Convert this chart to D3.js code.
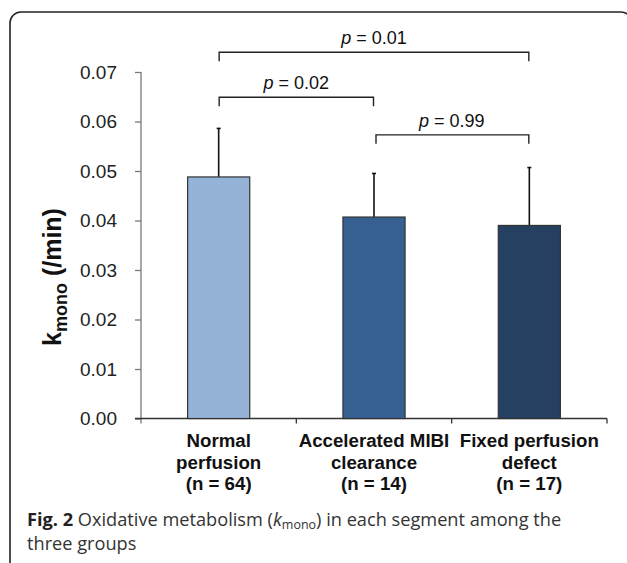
<!DOCTYPE html>
<html>
    <head>
        <meta charset="utf-8">
        <title>k mono bars</title>
        <script src="https://d3js.org/d3.v7.min.js"></script>
        <style type="text/css">
            body { margin: 0; background: #fff; }
            #chart { width: 627px; height: 563px; display: block; }
            .tick text { font: 19px "Liberation Sans", Arial, sans-serif; fill: #222; }
        </style>
    </head>
    <body>
        <svg id="chart" width="627" height="563"></svg>
        <script>
            // groups (multi-line labels)
            var categories = ["Normal perfusion", "Accelerated MIBI clearance", "Fixed perfusion defect"];
            var labelLines = [
                ["Normal", "perfusion", "(n = 64)"],
                ["Accelerated MIBI", "clearance", "(n = 14)"],
                ["Fixed perfusion", "defect", "(n = 17)"]
            ];
            var means = [0.0488, 0.0407, 0.0390];
            var sds = [0.0098, 0.0088, 0.0117];
            var colors = ["#95b3d7", "#376092", "#254061"];
            var yTicks = [0, 0.01, 0.02, 0.03, 0.04, 0.05, 0.06, 0.07];

            // significance brackets: which bars, p value
            var pairs = [[0, 2], [0, 1], [1, 2]];
            var pLabels = ["0.01", "0.02", "0.99"];

            var svg = d3.select("#chart");

            // panel frame
            svg.append("rect")
                .attr("x", 10).attr("y", 12)
                .attr("width", 622).attr("height", 600)
                .attr("rx", 11)
                .attr("fill", "none")
                .attr("stroke", "#222")
                .attr("stroke-width", 1.6);

            var x = d3.scaleBand()
                .domain(categories)
                .range([141, 607])
                .paddingInner(0.6)
                .paddingOuter(0.3);

            var y = d3.scaleLinear()
                .domain([0, 0.07])
                .range([418.5, 72]);

            var step = x.step();
            var cx = c => x(c) + x.bandwidth() / 2;

            // y axis
            var yAxis = svg.append("g")
                .attr("transform", "translate(141,0)")
                .call(d3.axisLeft(y)
                    .tickValues(yTicks)
                    .tickFormat(d3.format(".2f"))
                    .tickSize(6)
                    .tickSizeOuter(0)
                    .tickPadding(18));
            yAxis.select(".domain").attr("stroke", "#777").attr("stroke-width", 1.3);
            yAxis.selectAll(".tick line").attr("stroke", "#777").attr("stroke-width", 1.3);
            yAxis.select(".domain").attr("d", `M0,${y(0.07)}V${y(0) + 5}`);

            // x axis line + boundary ticks
            var xg = svg.append("g").attr("stroke", "#333").attr("stroke-width", 1.3);
            xg.append("line")
                .attr("x1", 135).attr("x2", 607)
                .attr("y1", y(0)).attr("y2", y(0));
            var bounds = categories.map(c => x(c) + x.bandwidth() + step * 0.3);
            xg.selectAll("line.b")
                .data(bounds)
                .enter().append("line")
                    .attr("class", "b")
                    .attr("x1", d => d).attr("x2", d => d)
                    .attr("y1", y(0)).attr("y2", y(0) + 5);

            // bars
            var data = categories.map((c, i) => ({c: c, m: means[i], sd: sds[i], col: colors[i]}));

            svg.selectAll("line.err")
                .data(data)
                .enter().append("line")
                    .attr("class", "err")
                    .attr("x1", d => cx(d.c)).attr("x2", d => cx(d.c))
                    .attr("y1", d => y(d.m)).attr("y2", d => y(d.m + d.sd))
                    .attr("stroke", "#111").attr("stroke-width", 1.6);
            svg.selectAll("line.cap")
                .data(data)
                .enter().append("line")
                    .attr("class", "cap")
                    .attr("x1", d => cx(d.c) - 2).attr("x2", d => cx(d.c) + 2)
                    .attr("y1", d => y(d.m + d.sd)).attr("y2", d => y(d.m + d.sd))
                    .attr("stroke", "#111").attr("stroke-width", 1.6);

            svg.selectAll("rect.bar")
                .data(data)
                .enter().append("rect")
                    .attr("class", "bar")
                    .attr("x", d => x(d.c))
                    .attr("y", d => y(d.m))
                    .attr("width", x.bandwidth())
                    .attr("height", d => y(0) - y(d.m))
                    .attr("fill", d => d.col)
                    .attr("stroke", "#333")
                    .attr("stroke-width", 1.2);

            // category labels
            var lab = svg.selectAll("text.cat")
                .data(data)
                .enter().append("text")
                    .attr("class", "cat")
                    .attr("text-anchor", "middle")
                    .style("font", "bold 18.7px 'Liberation Sans', Arial, sans-serif")
                    .attr("fill", "#111");
            lab.selectAll("tspan")
                .data((d, i) => labelLines[i].map(t => ({t: t, c: d.c})))
                .enter().append("tspan")
                    .attr("x", d => cx(d.c))
                    .attr("y", (d, j) => 447 + j * 21.5)
                    .text(d => d.t);

            // y title
            var yt = svg.append("text")
                .attr("transform", "translate(61,277) rotate(-90)")
                .attr("text-anchor", "middle")
                .style("font", "bold 25px 'Liberation Sans', Arial, sans-serif")
                .attr("fill", "#111");
            yt.append("tspan").text("k");
            yt.append("tspan").attr("dy", 6).style("font-size", "18px").text("mono");
            yt.append("tspan").attr("dy", -6).text(" (/min)");

            // significance brackets
            var levels = [0.074, 0.0649, 0.0573];
            var br = svg.selectAll("g.br")
                .data(pairs)
                .enter().append("g")
                    .attr("class", "br");
            br.append("path")
                .attr("d", (d, i) => {
                    var x1 = cx(categories[d[0]]) + (d[0] > 0 ? 2 : 0.5);
                    var x2 = cx(categories[d[1]]) - 0.5;
                    var yy = y(levels[i]);
                    return `M${x1},${yy + 9}V${yy}H${x2}V${yy + 9}`;
                })
                .attr("fill", "none")
                .attr("stroke", "#222")
                .attr("stroke-width", 1.4);
            var pt = br.append("text")
                .attr("x", d => (cx(categories[d[0]]) + cx(categories[d[1]])) / 2)
                .attr("y", (d, i) => y(levels[i]) - 8)
                .attr("text-anchor", "middle")
                .style("font", "18px 'Liberation Sans', Arial, sans-serif")
                .attr("fill", "#111");
            pt.append("tspan").style("font-style", "italic").text("p");
            pt.append("tspan").text((d, i) => " = " + pLabels[i]);

            // caption
            var cap = svg.append("text")
                .attr("x", 27).attr("y", 526)
                .style("font", "18.2px 'Open Sans', sans-serif")
                .attr("fill", "#333");
            cap.append("tspan").style("font-weight", "bold").attr("fill", "#222").text("Fig. 2");
            cap.append("tspan").text(" Oxidative metabolism (");
            cap.append("tspan").style("font-style", "italic").text("k");
            cap.append("tspan").attr("dy", 3).style("font-size", "12.5px").text("mono");
            cap.append("tspan").attr("dy", -3).text(") in each segment among the");
            svg.append("text")
                .attr("x", 27).attr("y", 550)
                .style("font", "18.2px 'Open Sans', sans-serif")
                .attr("fill", "#333")
                .text("three groups");
        </script>
    </body>
</html>
